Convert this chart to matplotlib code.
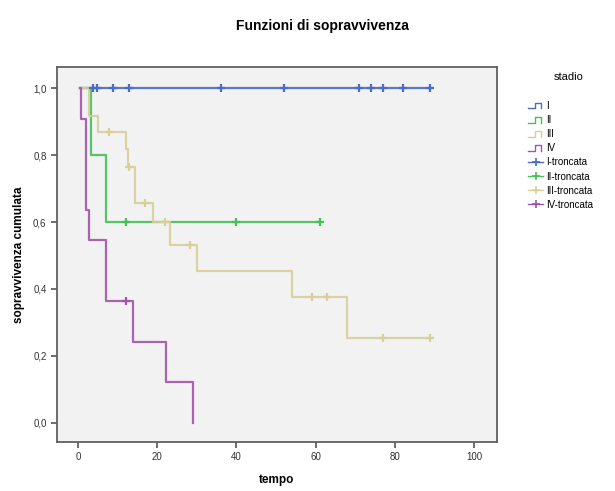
import numpy as np
import matplotlib
matplotlib.use('Agg')
from matplotlib import pyplot as plt
from matplotlib.lines import Line2D
from matplotlib.legend_handler import HandlerBase

plt.rcParams['font.family'] = ['Liberation Sans', 'DejaVu Sans']

# stadio I..IV : tempi degli eventi, sopravvivenza dopo ogni evento, tempi censurati
groups = ['I', 'II', 'III', 'IV']
colors = ['#4a6cc8', '#45c058', '#d8d098', '#a452ac']
start_time = 0.5

ev_I = []
surv_I = []
cens_I = [3.9, 4.7, 8.8, 12.9, 36, 52, 71, 74, 77, 82, 89]

ev_II = [3.4, 7]
surv_II = [0.8, 0.6]
cens_II = [12, 40, 61]

ev_III = [2.9, 5.0, 12.0, 12.7, 14.4, 19, 23.2, 30, 54, 68]
surv_III = [0.916, 0.868, 0.818, 0.765, 0.656, 0.601, 0.531, 0.454, 0.377, 0.253]
cens_III = [7.9, 13, 16.9, 22, 28.3, 59, 63, 77, 89]

ev_IV = [0.8, 1.9, 2.9, 7.1, 14, 22.1, 29.1]
surv_IV = [0.909, 0.636, 0.545, 0.364, 0.242, 0.121, 0.0]
cens_IV = [12.1]

events = [ev_I, ev_II, ev_III, ev_IV]
survs = [surv_I, surv_II, surv_III, surv_IV]
cens = [cens_I, cens_II, cens_III, cens_IV]

x_ticks = [0, 20, 40, 60, 80, 100]
y_ticks = [0.0, 0.2, 0.4, 0.6, 0.8, 1.0]
y_labels = ['0,0', '0,2', '0,4', '0,6', '0,8', '1,0']


class StepHandler(HandlerBase):
    def create_artists(self, legend, orig, xd, yd, width, height, fontsize, trans):
        xs = np.array([0, 0.45, 0.45, 0.85, 0.85]) * width - xd
        ys = np.array([0.1, 0.1, 0.9, 0.9, 0.1]) * height - yd
        ln = Line2D(xs, ys, color=orig.get_color(), lw=1.0, transform=trans)
        return [ln]


fig = plt.figure(figsize=(6.15, 4.91), dpi=100)
ax = fig.add_axes([0.0927, 0.0998, 0.7153, 0.7637])
ax.set_facecolor('#f2f2f2')

step_handles = []
cens_handles = []
for g, c, ev, sv, ce in zip(groups, colors, events, survs, cens):
    t = [start_time] + ev
    s = [1.0] + sv
    end = max(ce + ev)
    if end > t[-1]:
        t = t + [end]
        s = s + [s[-1]]
    ax.step(t, s, where='post', color=c, lw=1.6, alpha=0.9, zorder=3)
    # valore della curva in corrispondenza dei censurati
    tt = np.array([start_time] + ev)
    ss = np.array([1.0] + sv)
    idx = np.searchsorted(tt, ce, side='right') - 1
    ax.plot(ce, ss[idx], ls='none', marker='+', ms=6, mew=1.6, color=c, zorder=4)
    step_handles.append(Line2D([], [], color=c))
    cens_handles.append(Line2D([], [], color=c, lw=1.0, marker='+', ms=6, mew=1.2))

ax.set_xlim(-5.3, 105.8)
ax.set_ylim(-0.057, 1.063)
ax.set_xticks(x_ticks)
ax.set_xticklabels([str(v) for v in x_ticks])
ax.set_yticks(y_ticks)
ax.set_yticklabels(y_labels)
ax.tick_params(direction='out', length=4, width=1.2, colors='#555555',
               labelsize=7, labelcolor='#333333')
for sp in ax.spines.values():
    sp.set_color('#606060')
    sp.set_linewidth(1.3)

ax.set_xlabel('tempo', fontsize=8.5, fontweight='bold', labelpad=8)
ax.set_ylabel('sopravvivenza cumulata', fontsize=8.5, fontweight='bold', labelpad=6)
fig.text(0.524, 0.947, 'Funzioni di sopravvivenza', ha='center', va='center',
         fontsize=10, fontweight='bold')

labels = groups + [g + '-troncata' for g in groups]
hmap = {h: StepHandler() for h in step_handles}
leg = fig.legend(step_handles + cens_handles, labels, handler_map=hmap,
                 loc='upper left', bbox_to_anchor=(0.852, 0.802), frameon=False,
                 fontsize=7, handlelength=1.6, handletextpad=0.3,
                 labelspacing=0.42, borderaxespad=0)
fig.text(0.925, 0.843, 'stadio', ha='center', va='center', fontsize=8)

fig.savefig('out.png', dpi=100)
